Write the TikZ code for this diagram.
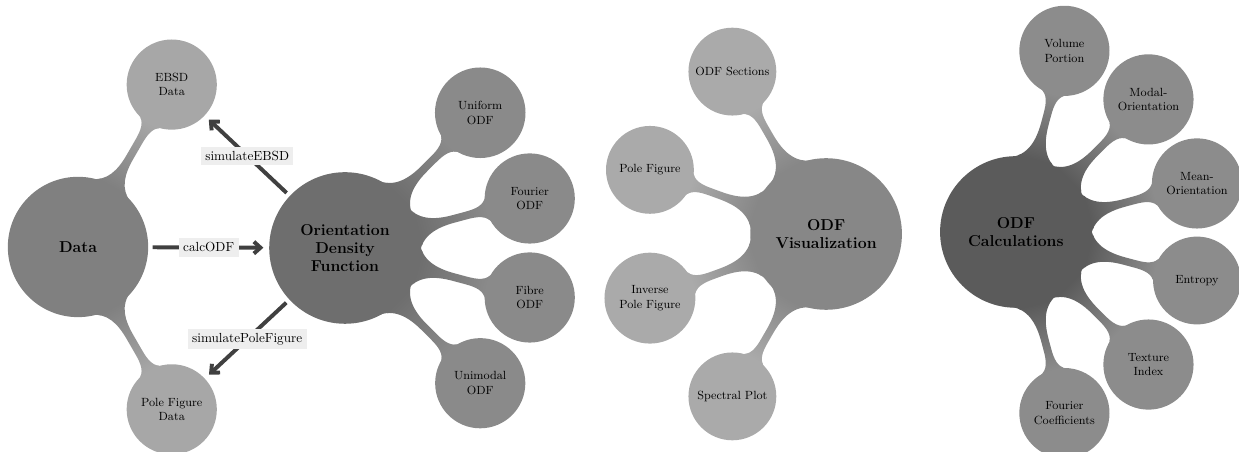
\documentclass[tikz,border=0pt]{standalone}
\usetikzlibrary{mindmap,arrows.meta}
\definecolor{cData}{HTML}{808080}
\definecolor{cDataL}{HTML}{A7A7A7}
\definecolor{cOdf}{HTML}{6E6E6E}
\definecolor{cOdfL}{HTML}{8A8A8A}
\definecolor{cVis}{HTML}{878787}
\definecolor{cVisL}{HTML}{AAAAAA}
\definecolor{cCalc}{HTML}{5B5B5B}
\definecolor{cCalcL}{HTML}{8C8C8C}
\definecolor{cArrow}{HTML}{404040}
\definecolor{cLabel}{HTML}{EEEEEE}
\tikzset{
  rootc/.style={concept, minimum size=4cm, text width=3.5cm, align=center, font=\large\bfseries, text=black},
  leafc/.style={concept, minimum size=2.3cm, text width=2.2cm, align=center, font=\small, text=black},
  arr/.style={draw=cArrow, line width=3pt, -{Straight Barb[length=5pt,width=9pt]}, shorten <=4pt, shorten >=5pt},
  lab/.style={fill=cLabel, font=\normalsize, text=black},
}
\begin{document}
\begin{tikzpicture}
\useasboundingbox (0,0) rectangle (33.04,12.053);

% Data tree
\path[mindmap, concept color=cData]
  node[rootc, minimum size=3.7cm] (data) at (2.08,5.467) {Data}
    child[grow=60, level distance=5cm, concept color=cDataL] {node[leafc] (ebsd) {EBSD\\Data}}
    child[grow=-60, level distance=5cm, concept color=cDataL] {node[leafc] (pfd) {Pole Figure\\Data}};

% ODF tree
\path[mindmap, concept color=cOdf]
  node[rootc] (odf) at (9.2,5.44) {Orientation\\Density\\Function}
    child[grow=45, level distance=5.1cm, concept color=cOdfL] {node[leafc] (uni) {Uniform\\ODF}}
    child[grow=15, level distance=5.1cm, concept color=cOdfL] {node[leafc] (fou) {Fourier\\ODF}}
    child[grow=-15, level distance=5.1cm, concept color=cOdfL] {node[leafc] (fib) {Fibre\\ODF}}
    child[grow=-45, level distance=5.1cm, concept color=cOdfL] {node[leafc] (unim) {Unimodal\\ODF}};

% ODF Visualization tree
\path[mindmap, concept color=cVis]
  node[rootc] (vis) at (22.03,5.813) {ODF\\Visualization}
    child[grow=120, level distance=5cm, concept color=cVisL] {node[leafc] (sec) {ODF Sections}}
    child[grow=160, level distance=5cm, concept color=cVisL] {node[leafc] (pf) {Pole Figure}}
    child[grow=200, level distance=5cm, concept color=cVisL] {node[leafc] (ipf) {Inverse\\Pole Figure}}
    child[grow=240, level distance=5cm, concept color=cVisL] {node[leafc] (spec) {Spectral Plot}};

% ODF Calculations tree
\path[mindmap, concept color=cCalc]
  node[rootc] (calc) at (27.09,5.867) {ODF\\Calculations}
    child[grow=75, level distance=5cm, concept color=cCalcL] {node[leafc] (vol) {Volume\\Portion}}
    child[grow=45, level distance=5cm, concept color=cCalcL] {node[leafc] (modal) {Modal-\\Orientation}}
    child[grow=15, level distance=5cm, concept color=cCalcL] {node[leafc] (mean) {Mean-\\Orientation}}
    child[grow=-15, level distance=5cm, concept color=cCalcL] {node[leafc] (ent) {Entropy}}
    child[grow=-45, level distance=5cm, concept color=cCalcL] {node[leafc] (tex) {Texture\\Index}}
    child[grow=-75, level distance=5cm, concept color=cCalcL] {node[leafc] (fc) {Fourier\\Coefficients}};

% arrows
\draw[arr] (data) -- node[lab] {calcODF} (odf);
\draw[arr] (odf) -- node[lab] {simulateEBSD} (ebsd);
\draw[arr] (odf) -- node[lab] {simulatePoleFigure} (pfd);
\end{tikzpicture}
\end{document}
